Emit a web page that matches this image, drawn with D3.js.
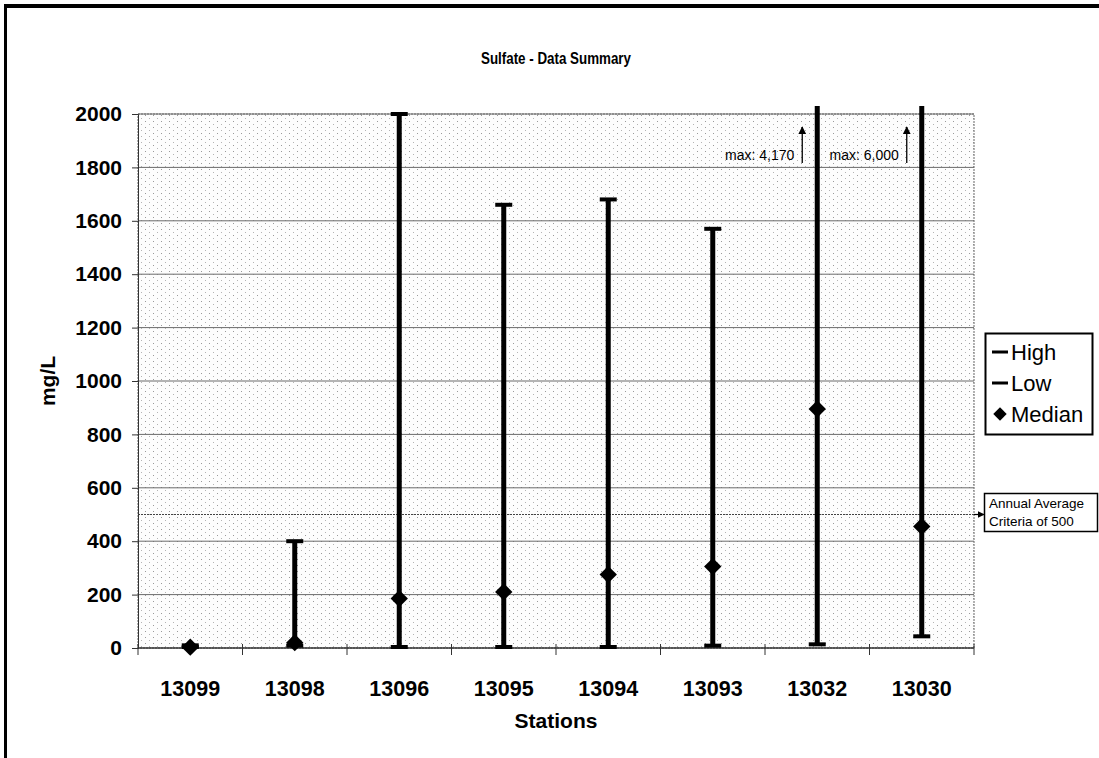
<!DOCTYPE html>
<html>
<head>
<meta charset="utf-8">
<script src="https://cdn.jsdelivr.net/npm/d3@7/dist/d3.min.js"></script>
<style>
  html, body { margin: 0; padding: 0; background: #fff; }
  svg { display: block; font-family: "Liberation Sans", Arial, sans-serif; }
</style>
</head>
<body>
<svg id="chart" width="1099" height="758"></svg>
<script>
// Sulfate concentrations (mg/L) by monitoring station
const stations = ["13099", "13098", "13096", "13095", "13094", "13093", "13032", "13030"];
const highValues = [10, 400, 2000, 1660, 1680, 1570, 4170, 6000];
const lowValues = [0, 5, 0, 0, 0, 5, 10, 40];
const medianValues = [3, 20, 185, 210, 275, 305, 895, 455];
const yTicks = [0, 200, 400, 600, 800, 1000, 1200, 1400, 1600, 1800, 2000];
const criteria = 500;
const legendItems = ["High", "Low", "Median"];

const svg = d3.select("#chart");
const plot = { left: 138, right: 974, top: 114, bottom: 648 };

const x = d3.scaleBand().domain(stations).range([plot.left, plot.right]).padding(0);
const y = d3.scaleLinear().domain([0, 2000]).range([plot.bottom, plot.top]);
const cx = s => x(s) + x.bandwidth() / 2;

// outer frame (left and top edges)
svg.append("rect").attr("x", 4).attr("y", 4).attr("width", 3).attr("height", 754).attr("fill", "#000");
svg.append("rect").attr("x", 4).attr("y", 4).attr("width", 1095).attr("height", 4).attr("fill", "#000");

// halftone plot-area fill
const defs = svg.append("defs");
const pat = defs.append("pattern").attr("id", "halftone")
  .attr("patternUnits", "userSpaceOnUse").attr("width", 8).attr("height", 6);
pat.append("rect").attr("width", 8).attr("height", 6).attr("fill", "#fdfdfd");
pat.append("rect").attr("x", 1).attr("y", 1).attr("width", 1).attr("height", 1).attr("fill", "#9a9a9a");
pat.append("rect").attr("x", 5).attr("y", 4).attr("width", 1).attr("height", 1).attr("fill", "#b4b4b4");

defs.append("clipPath").attr("id", "plotClip").append("rect")
  .attr("x", plot.left).attr("y", plot.top - 8)
  .attr("width", plot.right - plot.left).attr("height", plot.bottom - plot.top + 16);

defs.append("marker").attr("id", "arrowHead")
  .attr("viewBox", "0 0 10 10").attr("refX", 9).attr("refY", 5)
  .attr("markerWidth", 6).attr("markerHeight", 6).attr("orient", "auto-start-reverse")
  .append("path").attr("d", "M0,0 L10,5 L0,10 Z").attr("fill", "#000");

svg.append("rect")
  .attr("x", plot.left).attr("y", plot.top)
  .attr("width", plot.right - plot.left).attr("height", plot.bottom - plot.top)
  .attr("fill", "url(#halftone)")
  .attr("stroke", "#666").attr("stroke-width", 1).attr("stroke-dasharray", "2,1");

// horizontal gridlines
svg.append("g").selectAll("line").data(yTicks.filter(d => d > 0)).join("line")
  .attr("x1", plot.left).attr("x2", plot.right)
  .attr("y1", d => y(d)).attr("y2", d => y(d))
  .attr("stroke", "#6a6a6a").attr("stroke-width", 1);

// annual average criteria line
svg.append("line")
  .attr("x1", plot.left).attr("x2", plot.right)
  .attr("y1", y(criteria)).attr("y2", y(criteria))
  .attr("stroke", "#444").attr("stroke-width", 1.2).attr("stroke-dasharray", "2,1");

// y axis
const yAxis = d3.axisLeft(y).tickValues(yTicks).tickSize(6).tickPadding(10).tickFormat(d3.format("d"));
const yg = svg.append("g").attr("transform", `translate(${plot.left},0)`).call(yAxis);
yg.select(".domain").attr("stroke", "#333");
yg.selectAll(".tick line").attr("stroke", "#333");
yg.selectAll(".tick text").attr("font-size", 21).attr("font-weight", "bold")
  .attr("fill", "#000").attr("font-family", "Liberation Sans, Arial, sans-serif");

// x axis with ticks at category boundaries
const xg = svg.append("g").attr("transform", `translate(0,${plot.bottom})`);
xg.append("line").attr("x1", plot.left).attr("x2", plot.right).attr("y1", 0).attr("y2", 0)
  .attr("stroke", "#333").attr("stroke-width", 1.5);
const bounds = stations.map(s => x(s)).concat([plot.right]);
xg.selectAll("line.bound").data(bounds).join("line").attr("class", "bound")
  .attr("x1", d => d).attr("x2", d => d).attr("y1", -4).attr("y2", 7)
  .attr("stroke", "#333");
xg.selectAll("text").data(stations).join("text")
  .attr("x", d => cx(d)).attr("y", 48)
  .attr("text-anchor", "middle").attr("font-size", 21.5).attr("font-weight", "bold")
  .text(d => d);

// high-low bars
const marks = svg.append("g").attr("clip-path", "url(#plotClip)");
const rows = stations.map((s, i) => ({ s, hi: highValues[i], lo: lowValues[i], med: medianValues[i] }));
const topClip = plot.top - 8;
marks.selectAll("line.bar").data(rows).join("line").attr("class", "bar")
  .attr("x1", d => cx(d.s)).attr("x2", d => cx(d.s))
  .attr("y1", d => y(d.lo)).attr("y2", d => Math.max(y(d.hi), topClip))
  .attr("stroke", "#000").attr("stroke-width", 5);

const capW = 17;
// high caps (only where the value lies within the axis range)
marks.selectAll("rect.hi").data(rows.filter(d => d.hi <= 2000)).join("rect").attr("class", "hi")
  .attr("x", d => cx(d.s) - capW / 2).attr("y", d => y(d.hi) - 2)
  .attr("width", capW).attr("height", 4).attr("fill", "#000");
// low caps
marks.selectAll("rect.lo").data(rows).join("rect").attr("class", "lo")
  .attr("x", d => cx(d.s) - capW / 2).attr("y", d => y(d.lo) - 3)
  .attr("width", capW).attr("height", 4).attr("fill", "#000");

// median diamonds
const diamond = d3.symbol().type(d3.symbolSquare).size(150);
svg.append("g").selectAll("path").data(rows).join("path")
  .attr("d", diamond)
  .attr("transform", d => `translate(${cx(d.s)},${y(d.med)}) rotate(45)`)
  .attr("fill", "#000");

// off-scale maximum annotations
const offScale = rows.filter(d => d.hi > 2000);
const ann = svg.append("g");
offScale.forEach(d => {
  const ax = cx(d.s) - 15;
  ann.append("line").attr("x1", ax).attr("x2", ax).attr("y1", 163).attr("y2", 127)
    .attr("stroke", "#000").attr("stroke-width", 1.3).attr("marker-end", "url(#arrowHead)");
  ann.append("text").attr("x", ax - 8).attr("y", 160).attr("text-anchor", "end")
    .attr("font-size", 14).text("max: " + d3.format(",")(d.hi));
});

// criteria callout
svg.append("line").attr("x1", plot.right).attr("x2", 984)
  .attr("y1", y(criteria)).attr("y2", y(criteria))
  .attr("stroke", "#000").attr("stroke-width", 1.2).attr("marker-end", "url(#arrowHead)");
svg.append("rect").attr("x", 984.5).attr("y", 493.5).attr("width", 113).attr("height", 38)
  .attr("fill", "#fff").attr("stroke", "#000").attr("stroke-width", 1.5);
svg.append("text").attr("x", 989).attr("y", 508).attr("font-size", 13.5).text("Annual Average");
svg.append("text").attr("x", 989).attr("y", 526).attr("font-size", 13.5).text("Criteria of " + criteria);

// legend
const lg = svg.append("g");
lg.append("rect").attr("x", 985.5).attr("y", 333.5).attr("width", 107).attr("height", 101)
  .attr("fill", "#fff").attr("stroke", "#000").attr("stroke-width", 2);
legendItems.forEach((name, i) => {
  const ly = 352 + i * 31;
  if (name === "Median") {
    lg.append("path").attr("d", d3.symbol().type(d3.symbolSquare).size(90))
      .attr("transform", `translate(1000,${ly}) rotate(45)`).attr("fill", "#000");
  } else {
    lg.append("rect").attr("x", 992).attr("y", ly - 1.5).attr("width", 16).attr("height", 3).attr("fill", "#000");
  }
  lg.append("text").attr("x", 1011).attr("y", ly + 8).attr("font-size", 22).text(name);
});

// titles
svg.append("text").attr("x", 556).attr("y", 64).attr("text-anchor", "middle")
  .attr("font-size", 17).attr("font-weight", "bold")
  .attr("textLength", 150).attr("lengthAdjust", "spacingAndGlyphs")
  .text("Sulfate - Data Summary");
svg.append("text").attr("x", 556).attr("y", 728).attr("text-anchor", "middle")
  .attr("font-size", 21).attr("font-weight", "bold").text("Stations");
svg.append("text").attr("transform", `translate(55,${(plot.top + plot.bottom) / 2}) rotate(-90)`)
  .attr("text-anchor", "middle").attr("font-size", 21).attr("font-weight", "bold").text("mg/L");
</script>
</body>
</html>
